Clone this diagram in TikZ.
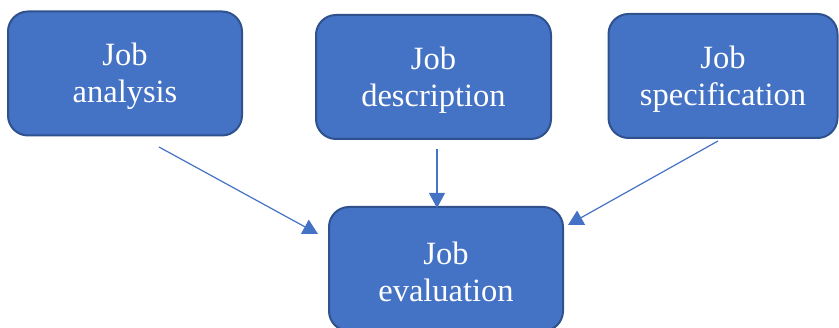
\documentclass[tikz,border=0pt]{standalone}
\usepackage{fontspec}
\setmainfont{Liberation Serif}
\usetikzlibrary{arrows.meta}
\definecolor{boxfill}{HTML}{4472C4}
\definecolor{boxline}{HTML}{2F528F}
\newcommand\topstrut{\rule{0pt}{29pt}}
\begin{document}
\begin{tikzpicture}[x=1pt,y=1pt,
  jobbox/.style={draw=boxline, line width=2pt, fill=boxfill, rounded corners=20pt,
    minimum height=124pt, text=white, align=center,
    font=\fontsize{32.5}{37}\selectfont, inner sep=0pt},
  conn/.style={draw=boxfill, line width=1.2pt, -{Triangle[length=15pt,width=16pt]}}]
\useasboundingbox (0,0) rectangle (839,328);
\begin{scope}
\clip (0,0) rectangle (839,328);
\node[jobbox, minimum width=234pt] (ana) at (125,254.5) {\topstrut Job\\analysis};
\node[jobbox, minimum width=235pt] (des) at (433.5,251) {\topstrut Job\\description};
\node[jobbox, minimum width=229pt] (spe) at (723,252) {\topstrut Job\\specification};
\node[jobbox, minimum width=234pt] (eva) at (446,59) {\topstrut Job\\evaluation};
\end{scope}
\coordinate (a1) at (159,181);
\coordinate (a2) at (318,94);
\coordinate (d1) at (437,179);
\coordinate (d2) at (437,120);
\coordinate (s1) at (718,187);
\coordinate (s2) at (568,103);
\draw[conn] (a1) -- (a2);
\draw[conn] (d1) -- (d2);
\draw[conn] (s1) -- (s2);
\end{tikzpicture}
\end{document}
